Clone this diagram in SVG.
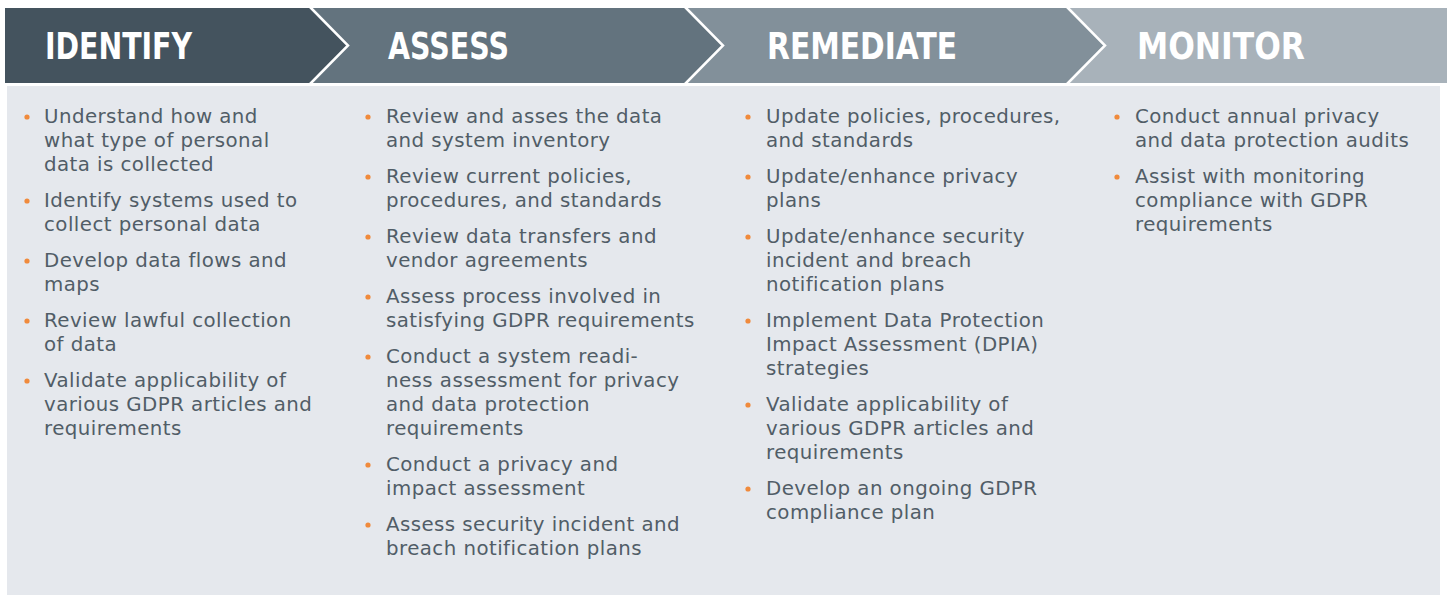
<svg xmlns="http://www.w3.org/2000/svg" width="1447" height="595" viewBox="0 0 1447 595">
<style>
.hd{font-family:"DejaVu Sans","Liberation Sans",sans-serif;font-weight:bold;font-size:37px;fill:#ffffff}
.tx{font-family:"DejaVu Sans","Liberation Sans",sans-serif;font-size:19.8px;letter-spacing:0.45px;fill:#515d67}
.bl{fill:#f08a3c}
.sep{fill:none;stroke:#ffffff;stroke-width:2.5}
</style>
<rect x="0" y="0" width="1447" height="595" fill="#ffffff"/>
<rect id="panel" x="7" y="86" width="1433" height="509" fill="#e5e8ed"/>
<g id="identify">
<polygon points="5,8 310,8 348,45.5 310,83 5,83" fill="#44535e"/>
<text class="hd" x="45" y="59" textLength="147" lengthAdjust="spacingAndGlyphs">IDENTIFY</text>
<circle class="bl" cx="27" cy="117" r="2.6"/><circle class="bl" cx="27" cy="201" r="2.6"/><circle class="bl" cx="27" cy="261" r="2.6"/><circle class="bl" cx="27" cy="321" r="2.6"/><circle class="bl" cx="27" cy="381" r="2.6"/>
<text class="tx" x="44" y="123">Understand how and</text>
<text class="tx" x="44" y="147">what type of personal</text>
<text class="tx" x="44" y="171">data is collected</text>
<text class="tx" x="44" y="207">Identify systems used to</text>
<text class="tx" x="44" y="231">collect personal data</text>
<text class="tx" x="44" y="267">Develop data flows and</text>
<text class="tx" x="44" y="291">maps</text>
<text class="tx" x="44" y="327">Review lawful collection</text>
<text class="tx" x="44" y="351">of data</text>
<text class="tx" x="44" y="387">Validate applicability of</text>
<text class="tx" x="44" y="411">various GDPR articles and</text>
<text class="tx" x="44" y="435">requirements</text>
</g>
<g id="assess">
<polygon points="310,8 685,8 723,45.5 685,83 310,83 348,45.5" fill="#63737e"/>
<text class="hd" x="388" y="59" textLength="121" lengthAdjust="spacingAndGlyphs">ASSESS</text>
<circle class="bl" cx="368" cy="117" r="2.6"/><circle class="bl" cx="368" cy="177" r="2.6"/><circle class="bl" cx="368" cy="237" r="2.6"/><circle class="bl" cx="368" cy="297" r="2.6"/><circle class="bl" cx="368" cy="357" r="2.6"/><circle class="bl" cx="368" cy="465" r="2.6"/><circle class="bl" cx="368" cy="525" r="2.6"/>
<text class="tx" x="386" y="123">Review and asses the data</text>
<text class="tx" x="386" y="147">and system inventory</text>
<text class="tx" x="386" y="183">Review current policies,</text>
<text class="tx" x="386" y="207">procedures, and standards</text>
<text class="tx" x="386" y="243">Review data transfers and</text>
<text class="tx" x="386" y="267">vendor agreements</text>
<text class="tx" x="386" y="303">Assess process involved in</text>
<text class="tx" x="386" y="327">satisfying GDPR requirements</text>
<text class="tx" x="386" y="363">Conduct a system readi-</text>
<text class="tx" x="386" y="387">ness assessment for privacy</text>
<text class="tx" x="386" y="411">and data protection</text>
<text class="tx" x="386" y="435">requirements</text>
<text class="tx" x="386" y="471">Conduct a privacy and</text>
<text class="tx" x="386" y="495">impact assessment</text>
<text class="tx" x="386" y="531">Assess security incident and</text>
<text class="tx" x="386" y="555">breach notification plans</text>
</g>
<g id="remediate">
<polygon points="685,8 1067,8 1105,45.5 1067,83 685,83 723,45.5" fill="#82909a"/>
<text class="hd" x="767" y="59" textLength="190" lengthAdjust="spacingAndGlyphs">REMEDIATE</text>
<circle class="bl" cx="748" cy="117" r="2.6"/><circle class="bl" cx="748" cy="177" r="2.6"/><circle class="bl" cx="748" cy="237" r="2.6"/><circle class="bl" cx="748" cy="321" r="2.6"/><circle class="bl" cx="748" cy="405" r="2.6"/><circle class="bl" cx="748" cy="489" r="2.6"/>
<text class="tx" x="766" y="123">Update policies, procedures,</text>
<text class="tx" x="766" y="147">and standards</text>
<text class="tx" x="766" y="183">Update/enhance privacy</text>
<text class="tx" x="766" y="207">plans</text>
<text class="tx" x="766" y="243">Update/enhance security</text>
<text class="tx" x="766" y="267">incident and breach</text>
<text class="tx" x="766" y="291">notification plans</text>
<text class="tx" x="766" y="327">Implement Data Protection</text>
<text class="tx" x="766" y="351">Impact Assessment (DPIA)</text>
<text class="tx" x="766" y="375">strategies</text>
<text class="tx" x="766" y="411">Validate applicability of</text>
<text class="tx" x="766" y="435">various GDPR articles and</text>
<text class="tx" x="766" y="459">requirements</text>
<text class="tx" x="766" y="495">Develop an ongoing GDPR</text>
<text class="tx" x="766" y="519">compliance plan</text>
</g>
<g id="monitor">
<polygon points="1067,8 1447,8 1447,83 1067,83 1105,45.5" fill="#a8b2ba"/>
<text class="hd" x="1137" y="59" textLength="168" lengthAdjust="spacingAndGlyphs">MONITOR</text>
<circle class="bl" cx="1117" cy="117" r="2.6"/><circle class="bl" cx="1117" cy="177" r="2.6"/>
<text class="tx" x="1135" y="123">Conduct annual privacy</text>
<text class="tx" x="1135" y="147">and data protection audits</text>
<text class="tx" x="1135" y="183">Assist with monitoring</text>
<text class="tx" x="1135" y="207">compliance with GDPR</text>
<text class="tx" x="1135" y="231">requirements</text>
</g>
<g id="connectors">
<polyline class="sep" points="310,7 348,45.5 310,84"/>
<polyline class="sep" points="685,7 723,45.5 685,84"/>
<polyline class="sep" points="1067,7 1105,45.5 1067,84"/>
</g>
</svg>
